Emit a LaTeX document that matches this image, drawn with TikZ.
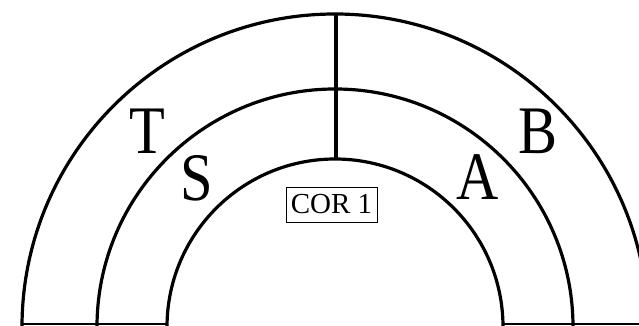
\documentclass[tikz,border=0pt]{standalone}
\usepackage{fontspec}
\setmainfont{Liberation Serif}
\begin{document}
\begin{tikzpicture}[x=1pt,y=1pt,
  ring/.style={line width=3.2pt,line cap=butt},
  base/.style={line width=2pt},
  bigletter/.style={inner sep=0pt,font=\fontsize{68}{68}\selectfont,xscale=0.86},
  corbox/.style={draw,line width=0.9pt,inner sep=0pt,minimum width=91pt,minimum height=35pt,font=\fontsize{29}{29}\selectfont}]
\useasboundingbox (0,0) rectangle (639,326);
\clip (0,0) rectangle (639,326);
\coordinate (c) at (335,-1);
\draw[ring] (c) ++(-168,0) arc[start angle=180,end angle=0,radius=168];
\draw[ring] (c) ++(-238,0) arc[start angle=180,end angle=0,radius=238];
\draw[ring] (c) ++(-313,0) arc[start angle=180,end angle=0,radius=313];
\coordinate (vt) at (336,313);
\coordinate (vb) at (336,167);
\draw[ring] (vt) -- (vb);
\coordinate (bl1) at (22,1.5);
\coordinate (bl2) at (167,1.5);
\coordinate (br1) at (503,1.5);
\coordinate (br2) at (639,1.5);
\draw[base] (bl1) -- (bl2);
\draw[base] (br1) -- (br2);
\node[bigletter] (T) at (147,195) {T};
\node[bigletter] (S) at (197,148) {S};
\node[bigletter] (A) at (478,149) {A};
\node[bigletter] (B) at (538,195) {B};
\node[corbox] (cor) at (331.5,121.5) {COR 1};
\end{tikzpicture}
\end{document}
